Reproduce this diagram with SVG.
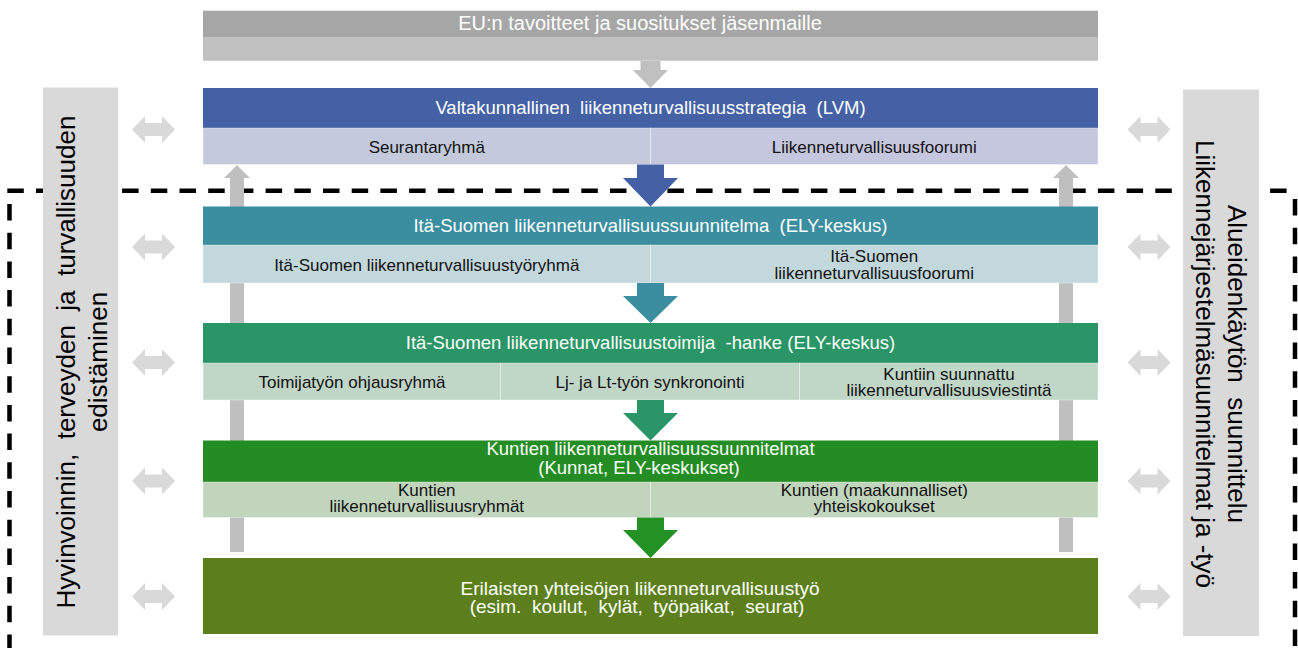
<svg xmlns="http://www.w3.org/2000/svg" width="1298" height="648" viewBox="0 0 1298 648">
<style>
text { font-family: "Liberation Sans", Arial, sans-serif; }
.hd { fill: #ffffff; font-size: 18.5px; text-anchor: middle; }
.sb { fill: #111111; font-size: 17px; text-anchor: middle; }
.side { fill: #000000; font-size: 26px; text-anchor: middle; }
.cell { stroke: #ffffff; stroke-opacity: 0.35; stroke-width: 1; }
.dash { fill: none; stroke: #000000; stroke-width: 4.5; stroke-dasharray: 16.5 12.2; }
.dbl { fill: #D9D9D9; }
.bar { fill: #BFBFBF; }
.sidebox { fill: #D9D9D9; }
</style>
<defs>
<path id="dblarrow" d="M-21.5,0 L-8.5,-13.5 L-8.5,-6.5 L8.5,-6.5 L8.5,-13.5 L21.5,0 L8.5,13.5 L8.5,6.5 L-8.5,6.5 L-8.5,13.5 Z"/>
</defs>

<g id="boundary">
<path class="dash" d="M7.3,190.7 H1298"/>
<path class="dash" d="M9.5,204 V648"/>
<path class="dash" d="M1295,199 V648"/>
</g>

<g id="connectors">
<path class="bar" d="M237,165 L250,178 L244,178 L244,552 L230,552 L230,178 L224,178 Z"/>
<path class="bar" d="M1066,165 L1079,178 L1073,178 L1073,552 L1059,552 L1059,178 L1053,178 Z"/>
</g>

<g id="eu">
<rect x="203" y="10.7" width="895" height="27" fill="#A6A6A6"/>
<rect x="203" y="37.7" width="895" height="23" fill="#C0C0C0"/>
<text x="640" y="29.5" class="hd" style="font-size:20px">EU:n tavoitteet ja suositukset jäsenmaille</text>
</g>

<g id="valtakunnallinen">
<rect x="203" y="88" width="895" height="40" fill="#4561A5"/>
<rect class="cell" x="203" y="128" width="447.5" height="36.5" fill="#C4C9DB"/>
<rect class="cell" x="650.5" y="128" width="447.5" height="36.5" fill="#C5C7DE"/>
<text x="650.5" y="113.5" class="hd" xml:space="preserve">Valtakunnallinen  liikenneturvallisuusstrategia  (LVM)</text>
<text x="426.75" y="152.5" class="sb">Seurantaryhmä</text>
<text x="874.25" y="152.5" class="sb">Liikenneturvallisuusfoorumi</text>
</g>

<g id="ita-suomen-suunnitelma">
<rect x="203" y="206.5" width="895" height="38.5" fill="#3A8E9F"/>
<rect class="cell" x="203" y="245" width="447.5" height="38" fill="#C3D8DC"/>
<rect class="cell" x="650.5" y="245" width="447.5" height="38" fill="#C3D8DC"/>
<text x="650.5" y="231.5" class="hd" xml:space="preserve">Itä-Suomen liikenneturvallisuussuunnitelma  (ELY-keskus)</text>
<text x="426.75" y="271" class="sb">Itä-Suomen liikenneturvallisuustyöryhmä</text>
<text x="874.25" y="261.5" class="sb">Itä-Suomen</text>
<text x="874.25" y="278.5" class="sb">liikenneturvallisuusfoorumi</text>
</g>

<g id="ita-suomen-hanke">
<rect x="203" y="323" width="895" height="40" fill="#2A9566"/>
<rect class="cell" x="203" y="363" width="297.5" height="37" fill="#C0D6C7"/>
<rect class="cell" x="500.5" y="363" width="299" height="37" fill="#C0D6C7"/>
<rect class="cell" x="799.5" y="363" width="298.5" height="37" fill="#C0D6C7"/>
<text x="650.5" y="349" class="hd" xml:space="preserve">Itä-Suomen liikenneturvallisuustoimija  -hanke (ELY-keskus)</text>
<text x="352" y="387.5" class="sb">Toimijatyön ohjausryhmä</text>
<text x="650" y="387.5" class="sb">Lj- ja Lt-työn synkronointi</text>
<text x="949" y="379.5" class="sb">Kuntiin suunnattu</text>
<text x="949" y="396" class="sb">liikenneturvallisuusviestintä</text>
</g>

<g id="kuntien-suunnitelmat">
<rect x="203" y="440.5" width="895" height="41.5" fill="#238D23"/>
<rect class="cell" x="203" y="482" width="447.5" height="35.5" fill="#C1D5BD"/>
<rect class="cell" x="650.5" y="482" width="447.5" height="35.5" fill="#C1D5BD"/>
<text x="650.5" y="455" class="hd">Kuntien liikenneturvallisuussuunnitelmat</text>
<text x="639" y="473.5" class="hd">(Kunnat, ELY-keskukset)</text>
<text x="426.75" y="495.5" class="sb">Kuntien</text>
<text x="426.75" y="512" class="sb">liikenneturvallisuusryhmät</text>
<text x="874.25" y="495.5" class="sb">Kuntien (maakunnalliset)</text>
<text x="874.25" y="512" class="sb">yhteiskokoukset</text>
</g>

<g id="yhteisojen-tyo">
<rect x="203" y="558" width="895" height="76" fill="#5C7F1B"/>
<text x="640" y="594.5" class="hd" style="font-size:19px">Erilaisten yhteisöjen liikenneturvallisuustyö</text>
<text x="637" y="613" class="hd" style="font-size:19px" xml:space="preserve">(esim.  koulut,  kylät,  työpaikat,  seurat)</text>
</g>

<g id="flow-arrows">
<path fill="#C0C0C0" d="M640.5,60.7 H660.5 V70 H668 L650.5,88 L633,70 H640.5 Z"/>
<path fill="#4561A5" d="M637,164.5 H664 V178 H678 L650.5,206.5 L623,178 H637 Z"/>
<path fill="#3A8E9F" d="M637,283 H664 V296 H678 L650.5,323 L623,296 H637 Z"/>
<path fill="#2A9566" d="M637,400 H664 V413 H678 L650.5,440.5 L623,413 H637 Z"/>
<path fill="#249124" d="M637,517.5 H664 V530 H678 L650.5,558 L623,530 H637 Z"/>
</g>

<g id="hyvinvointi">
<rect class="sidebox" x="43" y="87.5" width="75" height="548"/>
<text class="side" transform="translate(75,362) rotate(-90)" xml:space="preserve">Hyvinvoinnin,  terveyden  ja  turvallisuuden</text>
<text class="side" transform="translate(107,362) rotate(-90)">edistäminen</text>
</g>

<g id="alueidenkaytto">
<rect class="sidebox" x="1183" y="89.5" width="76" height="546.5"/>
<text class="side" transform="translate(1228,364) rotate(90)" xml:space="preserve">Alueidenkäytön  suunnittelu</text>
<text class="side" transform="translate(1196,364) rotate(90)">Liikennejärjestelmäsuunnitelmat ja -työ</text>
</g>

<g id="side-links">
<use href="#dblarrow" class="dbl" x="153.5" y="129.5"/>
<use href="#dblarrow" class="dbl" x="153.5" y="247"/>
<use href="#dblarrow" class="dbl" x="153.5" y="362.5"/>
<use href="#dblarrow" class="dbl" x="153.5" y="481"/>
<use href="#dblarrow" class="dbl" x="153.5" y="596.5"/>
<use href="#dblarrow" class="dbl" x="1149" y="129.5"/>
<use href="#dblarrow" class="dbl" x="1149" y="247"/>
<use href="#dblarrow" class="dbl" x="1149" y="362.5"/>
<use href="#dblarrow" class="dbl" x="1149" y="481"/>
<use href="#dblarrow" class="dbl" x="1149" y="596.5"/>
</g>
</svg>
